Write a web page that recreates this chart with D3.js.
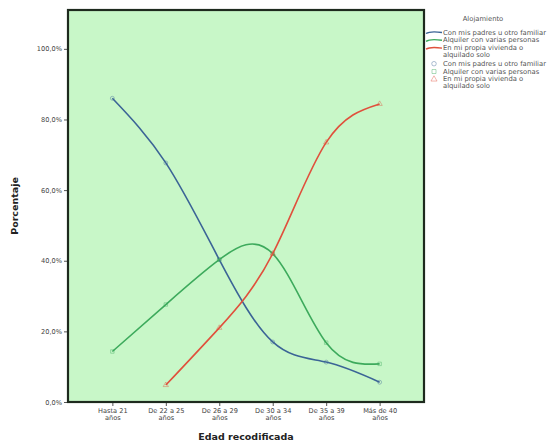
<!DOCTYPE html>
<html><head><meta charset="utf-8">
<script src="https://cdn.jsdelivr.net/npm/d3@7"></script>
<style>body{margin:0;background:#fff}svg{display:block}text{font-family:"DejaVu Sans",Arial,sans-serif}</style>
</head><body>
<svg id="c" width="555" height="448"></svg>
<script>
const categories = [["Hasta 21","años"],["De 22 a 25","años"],["De 26 a 29","años"],["De 30 a 34","años"],["De 35 a 39","años"],["Más de 40","años"]];
const seriesNames = [["Con mis padres u otro familiar"],["Alquiler con varias personas"],["En mi propia vivienda o","alquilado solo"]];
const padres = [86.0, 67.7, 40.3, 17.0, 11.3, 5.6];
const alquiler = [14.3, 27.6, 40.3, 42.0, 16.8, 10.8];
const propia = [null, 4.8, 21.0, 42.0, 73.5, 84.4];
const yTicks = [0, 20, 40, 60, 80, 100];
const colors = ["#3b6496", "#3daa5c", "#e0503c"];
const legendTitle = "Alojamiento";
const xTitle = "Edad recodificada";
const yTitle = "Porcentaje";

const svg = d3.select("#c");
const L = 68, R = 424, T = 10, B = 402;
const x = d3.scalePoint().domain(d3.range(categories.length)).range([L, R]).padding(0.83);
const y = d3.scaleLinear().domain([0, 111]).range([B, T]);

svg.append("rect").attr("x", L).attr("y", T).attr("width", R - L).attr("height", B - T)
  .attr("fill", "#c8f7c8");

const fmt = v => d3.format(".1f")(v).replace(".", ",") + "%";
const ya = svg.append("g").attr("transform", `translate(${L},0)`)
  .call(d3.axisLeft(y).tickValues(yTicks).tickFormat(fmt).tickSize(4).tickPadding(2));
ya.select(".domain").remove();
ya.selectAll("text").attr("font-size", 6.6).attr("fill", "#444").attr("font-family", "DejaVu Sans");
ya.selectAll("line").attr("stroke", "#555");

const xa = svg.append("g").attr("transform", `translate(0,${B})`)
  .call(d3.axisBottom(x).tickSize(4).tickFormat(""));
xa.select(".domain").remove();
xa.selectAll("line").attr("stroke", "#555");
xa.selectAll(".tick").each(function(d) {
  const t = d3.select(this).append("text").attr("fill", "#444").attr("font-size", 6.6)
    .attr("font-family", "DejaVu Sans").attr("text-anchor", "middle");
  categories[d].forEach((s, i) => t.append("tspan").attr("x", 0).attr("y", 11 + i * 7).text(s));
});

const allSeries = [padres, alquiler, propia];
const line = d3.line().x(d => x(d.i)).y(d => y(d.v)).curve(d3.curveNatural);
const syms = [d3.symbolCircle, d3.symbolSquare, d3.symbolTriangle];
allSeries.forEach((s, k) => {
  const pts = s.map((v, i) => ({i, v})).filter(d => d.v != null);
  svg.append("path").attr("d", line(pts)).attr("fill", "none").attr("stroke", colors[k]).attr("stroke-width", 1.6);
  svg.selectAll(null).data(pts).enter().append("path")
    .attr("transform", d => `translate(${x(d.i)},${y(d.v)})`)
    .attr("d", d3.symbol().type(syms[k]).size(12))
    .attr("fill", "none").attr("stroke", colors[k]).attr("stroke-opacity", 0.5).attr("stroke-width", 0.8);
});

svg.append("rect").attr("x", L).attr("y", T).attr("width", R - L).attr("height", B - T)
  .attr("fill", "none").attr("stroke", "#1e2a1e").attr("stroke-width", 2.2);

svg.append("text").attr("x", 18).attr("y", 206).attr("transform", "rotate(-90,18,206)")
  .attr("text-anchor", "middle").attr("font-size", 9.5).attr("font-weight", "bold").attr("fill", "#222").text(yTitle);
svg.append("text").attr("x", 246).attr("y", 440).attr("text-anchor", "middle")
  .attr("font-size", 9.5).attr("font-weight", "bold").attr("fill", "#222").text(xTitle);

// legend
const lg = svg.append("g");
lg.append("text").attr("x", 483).attr("y", 21).attr("text-anchor", "middle").attr("font-size", 6.8).attr("fill", "#555").text(legendTitle);
let yy = 34.5;
seriesNames.forEach((nm, k) => {
  lg.append("path").attr("d", `M426,${yy - 1} C430,${yy - 3.5} 435,${yy - 3} 442,${yy - 2}`)
    .attr("fill", "none").attr("stroke", colors[k]).attr("stroke-width", 1.4);
  nm.forEach((s, i) => lg.append("text").attr("x", 443).attr("y", yy + i * 7).attr("font-size", 6.8).attr("fill", "#555").text(s));
  yy += nm.length * 7.8;
});
seriesNames.forEach((nm, k) => {
  lg.append("path").attr("transform", `translate(434,${yy - 2})`)
    .attr("d", d3.symbol().type(syms[k]).size(16))
    .attr("fill", "none").attr("stroke", colors[k]).attr("stroke-opacity", 0.6).attr("stroke-width", 0.7);
  nm.forEach((s, i) => lg.append("text").attr("x", 443).attr("y", yy + i * 7).attr("font-size", 6.8).attr("fill", "#555").text(s));
  yy += nm.length * 7.8;
});
</script>
</body></html>
